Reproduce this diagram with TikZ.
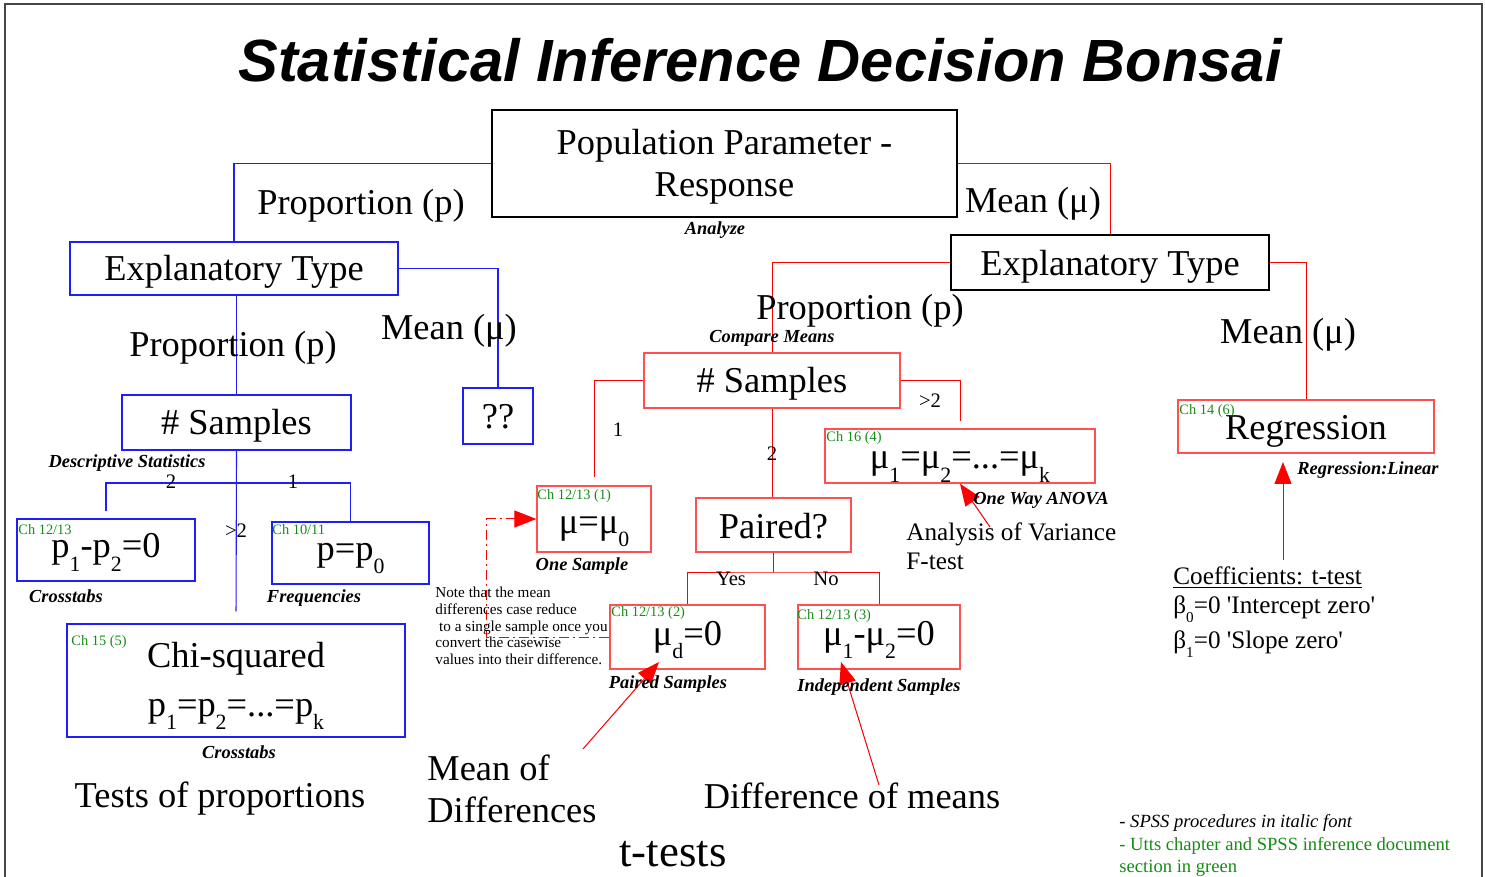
\documentclass[tikz,border=0pt]{standalone}
\usepackage{fontspec}
\setmainfont{Liberation Serif}
\setsansfont{Liberation Sans}
\usepackage{graphicx}
\usetikzlibrary{arrows.meta}
\definecolor{bl}{RGB}{30,30,245}
\definecolor{rdbox}{RGB}{255,80,80}
\definecolor{rdline}{RGB}{255,0,0}
\definecolor{chgreen}{RGB}{20,140,20}
\definecolor{framec}{RGB}{70,70,70}
\newcommand\boxtxt[2]{\makebox[0pt]{\raisebox{#1pt}[0pt][0pt]{#2}}}
\newcommand\subdn[1]{\raisebox{-0.38em}{\scalebox{0.6}{#1}}}
\tikzset{
  sz/.style 2 args={minimum width=#1*0.5pt, minimum height=#2*0.5pt},
  big/.style={font=\fontsize{18.2}{21}\selectfont},
  med/.style={font=\fontsize{12.6}{14.5}\selectfont},
  sml/.style={font=\fontsize{10.3}{12}\selectfont},
  spss/.style={font=\bfseries\itshape\fontsize{9.2}{11}\selectfont},
  chlab/.style={font=\fontsize{7.2}{8}\selectfont, text=chgreen, anchor=base west},
  lab/.style={anchor=base},
  bbox/.style={draw=bl, line width=0.65pt, big},
  rbox/.style={draw=rdbox, line width=0.65pt, big},
  kbox/.style={draw=black, line width=0.65pt, big},
  bline/.style={draw=bl, line width=0.55pt},
  rline/.style={draw=rdline, line width=0.5pt},
  dline/.style={draw=rdline, line width=0.5pt, dash pattern=on 5pt off 2pt on 1pt off 2pt},
  arr/.style={draw=rdline, line width=0.5pt, -{Triangle[length=11pt,width=8.5pt]}, fill=rdline}
}
\begin{document}
\begin{tikzpicture}[x=0.5pt,y=-0.5pt, every node/.style={inner sep=0pt}]
\useasboundingbox (0,0) rectangle (1485,877);
% frame
\draw[framec, line width=1pt] (5,877) -- (5,4) -- (1482,4) -- (1482,877);

% title
\node[lab, font=\sffamily\bfseries\itshape\fontsize{29.8}{36}\selectfont] (title) at (760,82) {Statistical Inference Decision Bonsai};

% boxes
\node[kbox, sz={465}{107}] (pop) at (724.5,163.5) {\boxtxt{4.25}{Population Parameter -}\boxtxt{-16.75}{Response}};
\node[bbox, sz={328}{53}] (exL) at (234,268.5) {\boxtxt{-6.25}{Explanatory Type}};
\node[kbox, sz={318}{55}] (exR) at (1110,262.5) {\boxtxt{-6.75}{Explanatory Type}};
\node[bbox, sz={70}{56}] (qq) at (498,416) {\boxtxt{-6}{??}};
\node[bbox, sz={229}{55}] (sampL) at (236.5,422.5) {\boxtxt{-6.25}{\# Samples}};
\node[bbox, sz={178}{62}] (p12) at (106,550) {\boxtxt{-4}{p\subdn{1}-p\subdn{2}=0}};
\node[bbox, sz={157}{62}] (pp0) at (350.5,553) {\boxtxt{-3.5}{p=p\subdn{0}}};
\node[bbox, sz={338}{113}] (chi) at (236,680.5) {\boxtxt{6.75}{Chi-squared}\boxtxt{-17.75}{p\subdn{1}=p\subdn{2}=...=p\subdn{k}}};
\node[rbox, sz={256}{55}] (sampR) at (772,380.5) {\boxtxt{-5.75}{\# Samples}};
\node[rbox, sz={114}{66}] (mu0) at (594,519) {\boxtxt{-7}{μ=μ\subdn{0}}};
\node[rbox, sz={270}{54}] (anova) at (960,456) {\boxtxt{-6.5}{μ\subdn{1}=μ\subdn{2}=...=μ\subdn{k}}};
\node[rbox, sz={155}{54}] (paired) at (773.5,525) {\boxtxt{-6.5}{Paired?}};
\node[rbox, sz={155}{64}] (mud) at (687.5,637) {\boxtxt{-4}{μ\subdn{d}=0}};
\node[rbox, sz={162}{64}] (mu12) at (879,637) {\boxtxt{-4}{μ\subdn{1}-μ\subdn{2}=0}};
\node[rbox, sz={256}{53}] (reg) at (1306,426.5) {\boxtxt{-6.75}{Regression}};

% chapter labels
\node[chlab] (chA) at (18,535) {Ch 12/13};
\node[chlab] (chB) at (272,535) {Ch 10/11};
\node[chlab] (chC) at (71,645) {Ch 15 (5)};
\node[chlab] (chD) at (537,500) {Ch 12/13 (1)};
\node[chlab] (chE) at (611,617) {Ch 12/13 (2)};
\node[chlab] (chF) at (797,619) {Ch 12/13 (3)};
\node[chlab] (chG) at (826,442) {Ch 16 (4)};
\node[chlab] (chH) at (1179,415) {Ch 14 (6)};

% blue connectors
\coordinate (brL) at (237,483);
\draw[bline] (pop.west) -| (exL.north);
\draw[bline] (exL.south -| sampL.north) -- (sampL.north);
\draw[bline] (exL.east) -| (qq.north);
\draw[bline, shorten >=6pt] (sampL.south) -- (chi.north);
\draw[bline, shorten <=3.5pt] (p12.north) |- (brL) -| (pp0.north);

% red connectors
\coordinate (brP) at (773.5,572);
\draw[rline] (pop.east) -| (exR.north);
\draw[rline] (exR.west) -| (sampR.north);
\draw[rline] (exR.east) -| (reg.north);
\draw[rline, shorten >=4pt] (sampR.west) -| (mu0.north);
\draw[rline, shorten >=3.5pt] (sampR.east) -| (anova.north);
\draw[rline] (sampR.south) -- (sampR.south |- paired.north);
\draw[rline] (paired.south) -- (brP);
\draw[rline] (mud.north) |- (brP) -| (mu12.north);
\coordinate (dcorner) at (486,519);
\draw[dline] (mud.west) -| (dcorner);
\draw[dline, -{Triangle[length=11pt,width=8.5pt]}, fill=rdline] (dcorner) -- (mu0.west);

% arrows
\coordinate (mdtail) at (583,749);
\coordinate (mdtip) at (659,662);
\coordinate (dmtail) at (879,785);
\coordinate (dmtip) at (841,662);
\coordinate (avtail) at (990,527);
\coordinate (rgtail) at (1283,560);
\coordinate (rgtip) at (1283,462);
\draw[arr] (mdtail) -- (mdtip);
\draw[arr] (dmtail) -- (dmtip);
\draw[arr] (avtail) -- (anova.south);
\draw[arr] (rgtail) -- (rgtip);

% branch labels (big)
\node[lab, big] (l1) at (361,215) {Proportion (p)};
\node[lab, big] (l2) at (1033,213) {Mean (μ)};
\node[lab, big] (l3) at (233,357) {Proportion (p)};
\node[lab, big] (l4) at (449,340) {Mean (μ)};
\node[lab, big] (l5) at (860,320) {Proportion (p)};
\node[lab, big] (l6) at (1288,344) {Mean (μ)};

% small branch labels
\node[lab, sml] (n2) at (171,488) {2};
\node[lab, sml] (n1) at (293,488) {1};
\node[lab, sml] (ngt) at (236,538) {>2};
\node[lab, sml] (r1) at (618,437) {1};
\node[lab, sml] (rgt) at (930,408) {>2};
\node[lab, sml] (r2) at (772,460) {2};
\node[lab, sml] (yes) at (731,585) {Yes};
\node[lab, sml] (no) at (826,585) {No};

% SPSS labels
\node[lab, spss] (s1) at (715,235) {Analyze};
\node[lab, spss] (s2) at (772,343) {Compare Means};
\node[lab, spss] (s3) at (127,467) {Descriptive Statistics};
\node[lab, spss] (s4) at (66,603) {Crosstabs};
\node[lab, spss] (s5) at (314,603) {Frequencies};
\node[lab, spss] (s6) at (239,758) {Crosstabs};
\node[lab, spss] (s7) at (582,570) {One Sample};
\node[lab, spss] (s8) at (668,688) {Paired Samples};
\node[lab, spss] (s9) at (879,691) {Independent Samples};
\node[lab, spss] (s10) at (1041,504) {One Way ANOVA};
\node[lab, spss] (s11) at (1368,474) {Regression:Linear};

% note
\node[anchor=north west, align=left, font=\fontsize{7.6}{8.3}\selectfont] (note) at (435,587)
  {Note that the mean\\differences case reduce\\\ to a single sample once you\\convert the casewise\\values into their difference.};

% descriptive texts
\node[lab, big] (tp) at (220,807) {Tests of proportions};
\node[anchor=base west, big] (md1) at (427,780) {Mean of};
\node[anchor=base west, big] (md2) at (427,822) {Differences};
\node[lab, big] (dm) at (852,808) {Difference of means};
\node[lab, font=\fontsize{22.4}{26}\selectfont] (tt) at (673,866) {t-tests};
\node[anchor=base west, med] (av1) at (906,540) {Analysis of Variance};
\node[anchor=base west, med] (av2) at (906,569) {F-test};
\node[anchor=base west, med] (cf) at (1173,584) {\underline{Coefficients: t-test}};
\node[anchor=base west, med] (b0) at (1173,613) {β\subdn{0}=0 \textquotesingle Intercept zero\textquotesingle};
\node[anchor=base west, med] (b1) at (1173,648) {β\subdn{1}=0 \textquotesingle Slope zero\textquotesingle};

% legend
\node[anchor=base west, font=\itshape\fontsize{9.3}{10.5}\selectfont] (lg1) at (1119,827) {- SPSS procedures in italic font};
\node[anchor=base west, font=\fontsize{9.3}{10.5}\selectfont, text=chgreen] (lg2) at (1119,850) {- Utts chapter and SPSS inference document};
\node[anchor=base west, font=\fontsize{9.3}{10.5}\selectfont, text=chgreen] (lg3) at (1119,872) {section in green};
\end{tikzpicture}
\end{document}
